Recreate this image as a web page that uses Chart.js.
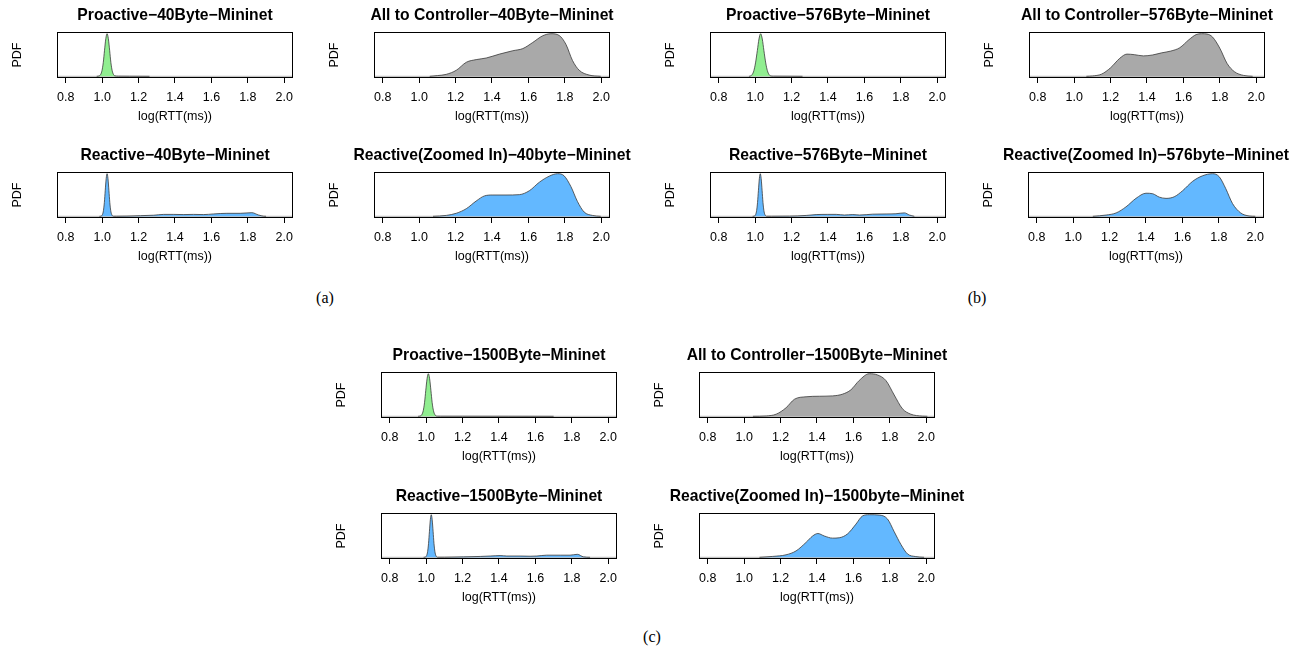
<!DOCTYPE html>
<html><head><meta charset="utf-8">
<script src="https://cdn.jsdelivr.net/npm/chart.js@4.4.0/dist/chart.umd.min.js"></script>
<style>
html,body{margin:0;padding:0;background:#fff;width:1307px;height:654px;overflow:hidden;position:relative}
.p{position:absolute}
.cap{position:absolute;font-family:"Liberation Serif","Times New Roman",serif;font-size:16px;color:#000;transform:translate(-50%,-50%);white-space:nowrap}
</style></head><body>
<script>
// ---------- data ----------
const tickValues = [0.8, 1.0, 1.2, 1.4, 1.6, 1.8, 2.0];
const tickLabels = ['0.8', '1.0', '1.2', '1.4', '1.6', '1.8', '2.0'];
const xAxisTitle = 'log(RTT(ms))';
const yAxisTitle = 'PDF';
const xMin = 0.752, xMax = 2.048;

const titles = [
  'Proactive−40Byte−Mininet', 'All to Controller−40Byte−Mininet',
  'Reactive−40Byte−Mininet', 'Reactive(Zoomed In)−40byte−Mininet',
  'Proactive−576Byte−Mininet', 'All to Controller−576Byte−Mininet',
  'Reactive−576Byte−Mininet', 'Reactive(Zoomed In)−576byte−Mininet',
  'Proactive−1500Byte−Mininet', 'All to Controller−1500Byte−Mininet',
  'Reactive−1500Byte−Mininet', 'Reactive(Zoomed In)−1500byte−Mininet'
];
const captions = ['(a)', '(b)', '(c)'];

// Proactive 40
const pro40X = [0.970, 0.985, 0.992, 0.999, 1.006, 1.013, 1.020, 1.027, 1.034, 1.041, 1.048, 1.055, 1.062, 1.069, 1.090, 1.150, 1.260];
const pro40Y = [0, 0.3, 1.2, 3.6, 8.6, 16.5, 23.8, 27, 23.8, 16.5, 8.6, 3.6, 1.2, 0.3, 0.1, 0.06, 0];
// All to controller 40
const ac40X = [1.058, 1.100, 1.149, 1.204, 1.259, 1.313, 1.368, 1.441, 1.514, 1.569, 1.623, 1.678, 1.724, 1.769, 1.806, 1.842, 1.879, 1.933, 1.997];
const ac40Y = [0, 0.04, 0.11, 0.34, 0.79, 0.94, 1.03, 1.25, 1.44, 1.56, 1.90, 2.28, 2.40, 2.30, 1.80, 0.89, 0.34, 0.07, 0];
// Reactive 40
const re40X = [0.985, 0.992, 0.997, 1.002, 1.007, 1.012, 1.017, 1.022, 1.027, 1.032, 1.037, 1.042, 1.047, 1.052, 1.057, 1.062, 1.080, 1.136, 1.210, 1.283, 1.338, 1.393, 1.448, 1.502, 1.557, 1.612, 1.685, 1.758, 1.822, 1.859, 1.887, 1.900];
const re40Y = [0, 0.04, 0.2, 0.8, 2.4, 5.8, 11, 15.9, 18, 15.9, 11, 5.8, 2.4, 0.8, 0.2, 0.04, 0.05, 0.1, 0.27, 0.45, 0.8, 0.8, 0.72, 0.8, 0.72, 1.0, 1.26, 1.26, 1.53, 0.54, 0.05, 0];
// Reactive zoomed 40
const rz40X = [1.076, 1.149, 1.204, 1.259, 1.313, 1.359, 1.405, 1.477, 1.550, 1.605, 1.660, 1.714, 1.760, 1.796, 1.833, 1.869, 1.906, 1.951, 1.997];
const rz40Y = [0, 0.05, 0.17, 0.43, 0.86, 1.15, 1.20, 1.20, 1.22, 1.44, 1.92, 2.26, 2.40, 2.28, 1.68, 0.84, 0.24, 0.05, 0];
// Proactive 576
const pro576X = [0.966, 0.975, 0.984, 0.993, 1.002, 1.012, 1.021, 1.030, 1.039, 1.048, 1.058, 1.067, 1.076, 1.085, 1.100, 1.180, 1.260];
const pro576Y = [0, 0.2, 0.9, 2.8, 6.6, 12.7, 18.4, 21, 18.4, 12.7, 6.6, 2.8, 0.9, 0.2, 0.08, 0.05, 0];
// All to controller 576
const ac576X = [1.067, 1.100, 1.150, 1.200, 1.250, 1.290, 1.330, 1.380, 1.430, 1.480, 1.530, 1.580, 1.630, 1.670, 1.700, 1.730, 1.760, 1.800, 1.840, 1.880, 1.930, 1.980];
const ac576Y = [0, 0.02, 0.12, 0.48, 1.01, 1.25, 1.22, 1.15, 1.20, 1.32, 1.42, 1.61, 2.06, 2.35, 2.40, 2.38, 2.21, 1.58, 0.72, 0.26, 0.05, 0];
// Reactive 576
const re576X = [0.986, 0.993, 0.998, 1.003, 1.008, 1.013, 1.018, 1.023, 1.028, 1.033, 1.038, 1.043, 1.048, 1.053, 1.058, 1.063, 1.090, 1.189, 1.280, 1.335, 1.399, 1.445, 1.490, 1.536, 1.573, 1.646, 1.719, 1.773, 1.820, 1.847, 1.874];
const re576Y = [0, 0.04, 0.2, 0.8, 2.4, 5.8, 11, 15.9, 18, 15.9, 11, 5.8, 2.4, 0.8, 0.2, 0.04, 0.04, 0.09, 0.36, 0.72, 0.81, 0.81, 0.54, 0.72, 0.54, 0.9, 0.99, 1.08, 1.44, 0.54, 0];
// Reactive zoomed 576
const rz576X = [1.108, 1.181, 1.236, 1.290, 1.345, 1.400, 1.437, 1.473, 1.510, 1.555, 1.601, 1.656, 1.710, 1.765, 1.802, 1.838, 1.875, 1.920, 1.966, 2.000];
const rz576Y = [0, 0.07, 0.19, 0.53, 1.01, 1.30, 1.27, 1.08, 1.01, 1.10, 1.44, 1.97, 2.28, 2.40, 2.23, 1.56, 0.72, 0.19, 0.02, 0];
// Proactive 1500
const pro1500X = [0.956, 0.963, 0.970, 0.977, 0.984, 0.991, 0.998, 1.005, 1.012, 1.019, 1.026, 1.033, 1.040, 1.047, 1.054, 1.061, 1.080, 1.200, 1.450, 1.700];
const pro1500Y = [0, 0.1, 0.3, 1.2, 3.6, 8.6, 16.5, 23.8, 27, 23.8, 16.5, 8.6, 3.6, 1.2, 0.3, 0.1, 0.07, 0.06, 0.04, 0];
// All to controller 1500
const ac1500X = [1.048, 1.121, 1.176, 1.230, 1.276, 1.340, 1.413, 1.486, 1.541, 1.586, 1.632, 1.687, 1.732, 1.778, 1.824, 1.869, 1.915, 1.979, 2.006];
const ac1500Y = [0, 0.02, 0.12, 0.48, 0.96, 1.10, 1.13, 1.15, 1.25, 1.49, 2.02, 2.40, 2.33, 2.02, 1.20, 0.43, 0.12, 0.01, 0];
// Reactive 1500
const re1500X = [0.986, 0.993, 0.998, 1.003, 1.008, 1.013, 1.018, 1.023, 1.028, 1.033, 1.038, 1.043, 1.048, 1.053, 1.058, 1.063, 1.100, 1.205, 1.297, 1.352, 1.406, 1.443, 1.516, 1.571, 1.608, 1.662, 1.736, 1.790, 1.830, 1.864, 1.900];
const re1500Y = [0, 0.04, 0.2, 0.8, 2.4, 5.8, 11, 15.9, 18, 15.9, 11, 5.8, 2.4, 0.8, 0.2, 0.04, 0.05, 0.18, 0.36, 0.54, 0.72, 0.54, 0.54, 0.45, 0.54, 0.9, 0.9, 0.9, 1.26, 0.18, 0];
// Reactive zoomed 1500
const rz1500X = [1.084, 1.157, 1.230, 1.285, 1.340, 1.376, 1.405, 1.440, 1.486, 1.522, 1.568, 1.614, 1.650, 1.687, 1.741, 1.787, 1.824, 1.861, 1.897, 1.942, 1.988];
const rz1500Y = [0, 0.05, 0.14, 0.36, 0.84, 1.20, 1.34, 1.20, 1.08, 1.10, 1.32, 1.87, 2.33, 2.40, 2.38, 2.16, 1.44, 0.72, 0.19, 0.04, 0];

const seriesX = [pro40X, ac40X, re40X, rz40X, pro576X, ac576X, re576X, rz576X, pro1500X, ac1500X, re1500X, rz1500X];
const seriesY = [pro40Y, ac40Y, re40Y, rz40Y, pro576Y, ac576Y, re576Y, rz576Y, pro1500Y, ac1500Y, re1500Y, rz1500Y];

// ---------- layout & style ----------
const GREEN = '#90EE90', GRAY = '#A9A9A9', BLUE = '#63B8FF';
const fills = [GREEN, GRAY, BLUE, BLUE, GREEN, GRAY, BLUE, BLUE, GREEN, GRAY, BLUE, BLUE];
const boxes = [[57,32],[374,32],[57,172],[374,172],[710,32],[1029,32],[710,172],[1028,172],[381,372],[699,372],[381,513],[699,513]];
const captionPos = [[325,298],[977,298],[652,637]];
const BOX_W = 236, BOX_H = 46;
const PAD_L = 55, PAD_R = 50, PAD_T = 32, PAD_B = 3, XAXIS_H = 46;
const FAMILY = '"Liberation Sans", Arial, Helvetica, sans-serif';

const panelDecor = {
  id: 'panelDecor',
  beforeDatasetsDraw(chart) {
    const {ctx, chartArea: a, scales: {y}} = chart;
    const y0 = y.getPixelForValue(0);
    ctx.save();
    ctx.strokeStyle = '#c4c4c4';
    ctx.lineWidth = 1.2;
    ctx.beginPath(); ctx.moveTo(a.left, y0); ctx.lineTo(a.right, y0); ctx.stroke();
    ctx.restore();
  },
  afterDraw(chart, args, opts) {
    const {ctx, chartArea: a} = chart;
    ctx.save();
    ctx.strokeStyle = '#000';
    ctx.lineWidth = 1;
    ctx.strokeRect(a.left + 0.5, a.top + 0.5, a.right - a.left - 1, a.bottom - a.top - 1);
    ctx.fillStyle = '#000';
    ctx.font = 'bold 15.7px ' + FAMILY;
    ctx.textAlign = 'center';
    ctx.textBaseline = 'alphabetic';
    ctx.fillText(opts.title, (a.left + a.right) / 2, a.top - 12);
    ctx.font = '12.5px ' + FAMILY;
    ctx.translate(a.left - 36.5, (a.top + a.bottom) / 2);
    ctx.rotate(-Math.PI / 2);
    ctx.fillText(yAxisTitle, 0, 0);
    ctx.restore();
  }
};

boxes.forEach((b, i) => {
  const div = document.createElement('div');
  div.className = 'p';
  div.style.left = (b[0] - PAD_L) + 'px';
  div.style.top = (b[1] - PAD_T) + 'px';
  const cv = document.createElement('canvas');
  const W = PAD_L + BOX_W + PAD_R, H = PAD_T + BOX_H + XAXIS_H + PAD_B;
  cv.width = W; cv.height = H;
  cv.style.width = W + 'px'; cv.style.height = H + 'px';
  div.appendChild(cv);
  document.body.appendChild(div);

  const xs = seriesX[i], ys = seriesY[i];
  const m = Math.max(...ys);
  new Chart(cv, {
    type: 'line',
    data: {
      datasets: [{
        data: xs.map((x, k) => ({x, y: ys[k]})),
        fill: 'origin',
        backgroundColor: fills[i],
        borderColor: '#3a3a3a',
        borderWidth: 0.8,
        pointRadius: 0,
        cubicInterpolationMode: 'monotone'
      }]
    },
    options: {
      responsive: false,
      animation: false,
      devicePixelRatio: 1,
      layout: {padding: {left: PAD_L, right: PAD_R, top: PAD_T, bottom: PAD_B}},
      plugins: {legend: {display: false}, tooltip: {enabled: false}, title: {display: false}, panelDecor: {title: titles[i]}},
      scales: {
        x: {
          type: 'linear', position: 'bottom', min: xMin, max: xMax,
          afterBuildTicks: s => { s.ticks = tickValues.map(v => ({value: v})); },
          afterFit: s => { s.height = XAXIS_H; },
          grid: {drawOnChartArea: false, drawTicks: true, tickLength: 5, color: '#000', lineWidth: 1},
          border: {display: false},
          ticks: {padding: 7, maxRotation: 0, autoSkip: false, color: '#000', font: {family: FAMILY, size: 12.5},
                  callback: (v, k) => tickLabels[k]},
          title: {display: true, text: xAxisTitle, color: '#000', font: {family: FAMILY, size: 12.5}, padding: {top: 0, bottom: 0}}
        },
        y: {display: false, min: -0.04 * m, max: 1.04 * m}
      }
    },
    plugins: [panelDecor]
  });
});

captions.forEach((c, i) => {
  const d = document.createElement('div');
  d.className = 'cap';
  d.style.left = captionPos[i][0] + 'px';
  d.style.top = captionPos[i][1] + 'px';
  d.textContent = c;
  document.body.appendChild(d);
});
</script>
</body></html>
